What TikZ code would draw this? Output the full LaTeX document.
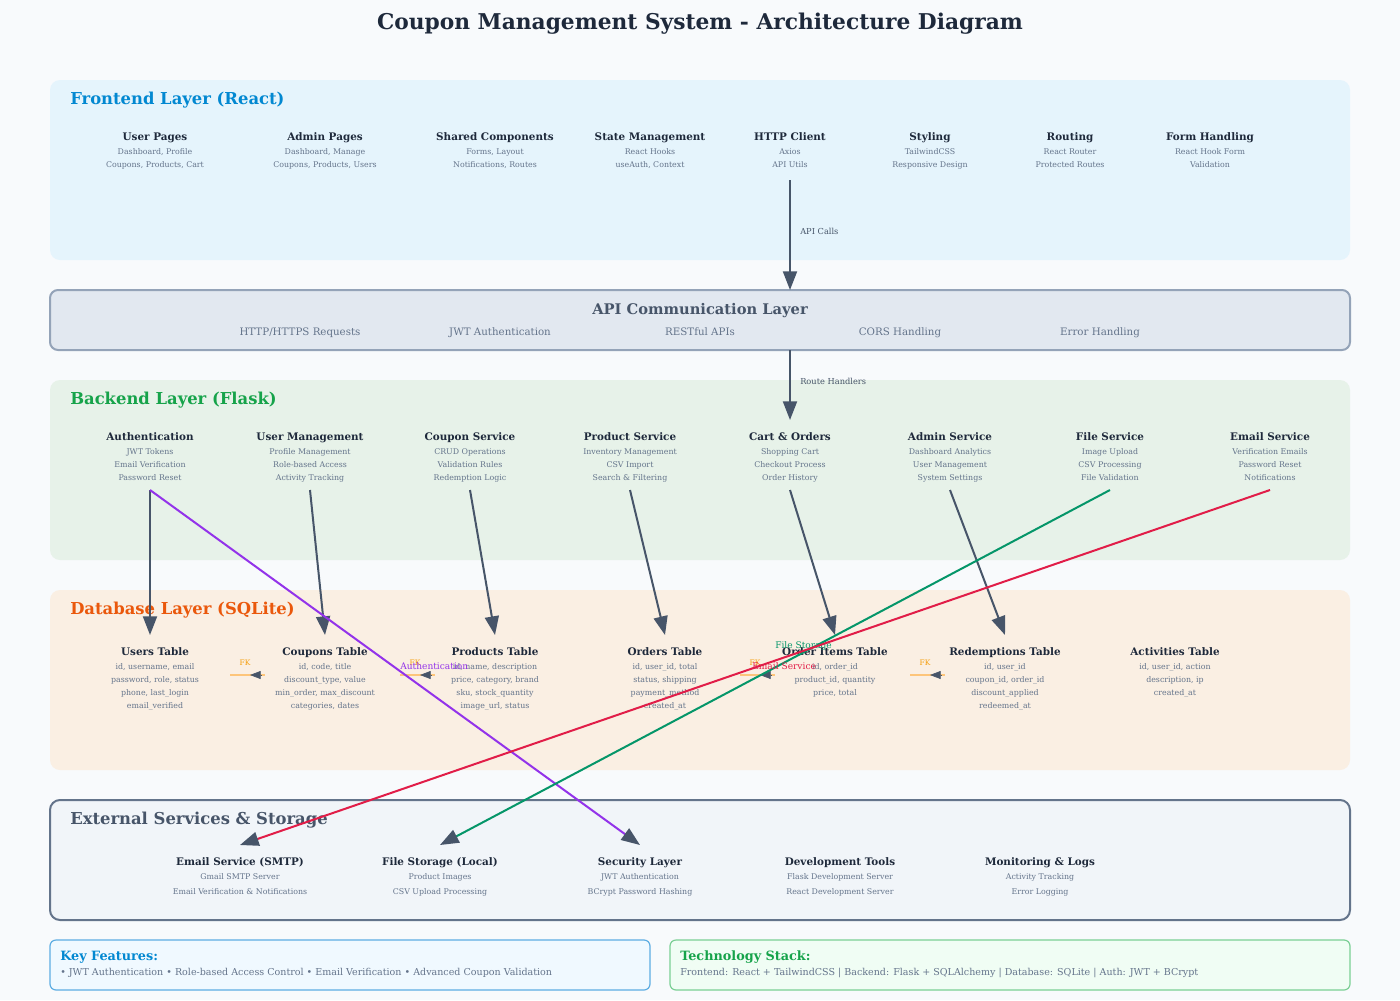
\documentclass[tikz,border=0pt]{standalone}
\usepackage{fontspec}
\setmainfont{DejaVu Serif}
\usetikzlibrary{arrows.meta}

\definecolor{bgc}{HTML}{F8FAFC}
\definecolor{ink}{HTML}{1E293B}
\definecolor{muted}{HTML}{64748B}
\definecolor{slate}{HTML}{475569}
\definecolor{feFill}{HTML}{E5F4FC}
\definecolor{feTitle}{HTML}{0288D1}
\definecolor{beFill}{HTML}{E7F2E9}
\definecolor{beTitle}{HTML}{16A34A}
\definecolor{dbFill}{HTML}{FAEFE3}
\definecolor{dbTitle}{HTML}{EA580C}
\definecolor{apiFill}{HTML}{E2E8F0}
\definecolor{apiLine}{HTML}{94A3B8}
\definecolor{exFill}{HTML}{F1F5F9}
\definecolor{exLine}{HTML}{64748B}
\definecolor{kfFill}{HTML}{F0F9FF}
\definecolor{kfLine}{HTML}{5DADE2}
\definecolor{tsFill}{HTML}{F0FDF4}
\definecolor{tsLine}{HTML}{7BCF94}
\definecolor{authC}{HTML}{9333EA}
\definecolor{fileC}{HTML}{059669}
\definecolor{mailC}{HTML}{E11D48}
\definecolor{fkLine}{HTML}{FDC57A}
\definecolor{fkText}{HTML}{F59E0B}

% one component: name, x, title baseline, line step, title, detail lines
\newcommand\archcomp[6]{%
  \node[ctitle] (#1) at (#2,#3) {#5};
  \foreach \ln [count=\k] in {#6}
    \node[csub] (#1-\k) at (#2,{#3+14+(\k-1)*#4}) {\ln};
}

\begin{document}
\begin{tikzpicture}[x=0.75pt,y=-0.75pt,
  ctitle/.style={anchor=base, inner sep=0pt, text=ink, font=\fontsize{7.8}{10}\selectfont\bfseries},
  csub/.style={anchor=base, inner sep=0pt, text=muted, font=\fontsize{5.9}{7}\selectfont},
  layertitle/.style={anchor=base west, inner sep=0pt, font=\fontsize{12.3}{14}\selectfont\bfseries},
  apiitem/.style={anchor=base, inner sep=0pt, text=muted, font=\fontsize{7.7}{9}\selectfont},
  lbl/.style={anchor=west, inner sep=0pt, text=slate, font=\fontsize{6.2}{8}\selectfont},
  conn/.style={draw=slate, line width=1.5pt, -{Triangle[length=14pt,width=10.5pt]}},
  cross/.style={line width=1.5pt, -{Triangle[length=14pt,width=10.5pt,color=slate,fill=slate]}},
  crosslbl/.style={anchor=west, inner sep=0pt, font=\fontsize{6.8}{8}\selectfont},
  fkline/.style={draw=fkLine, line width=2pt},
  fktip/.style={draw=slate, line width=0.4pt, -{Triangle[length=8pt,width=6pt]}},
  fklbl/.style={anchor=base, inner sep=0pt, text=fkText, font=\fontsize{5.6}{7}\selectfont},
]
\fill[bgc] (0,0) rectangle (1400,1000);
\useasboundingbox (0,0) rectangle (1400,1000);

\node[anchor=base, inner sep=0pt, text=ink, font=\fontsize{16.3}{19}\selectfont\bfseries] (title) at (700,29)
  {Coupon Management System - Architecture Diagram};

% ---------------- Frontend layer
\fill[feFill, rounded corners=7.5pt] (50,80) rectangle (1350,260);
\node[layertitle, text=feTitle] (fe) at (70,104) {Frontend Layer (React)};
\archcomp{userpages}{155}{140}{13}{User Pages}{{Dashboard, Profile},{Coupons, Products, Cart}}
\archcomp{adminpages}{325}{140}{13}{Admin Pages}{{Dashboard, Manage},{Coupons, Products, Users}}
\archcomp{shared}{495}{140}{13}{Shared Components}{{Forms, Layout},{Notifications, Routes}}
\archcomp{state}{650}{140}{13}{State Management}{{React Hooks},{useAuth, Context}}
\archcomp{http}{790}{140}{13}{HTTP Client}{{Axios},{API Utils}}
\archcomp{styling}{930}{140}{13}{Styling}{{TailwindCSS},{Responsive Design}}
\archcomp{routing}{1070}{140}{13}{Routing}{{React Router},{Protected Routes}}
\archcomp{forms}{1210}{140}{13}{Form Handling}{{React Hook Form},{Validation}}

% ---------------- API layer
\draw[apiLine, fill=apiFill, line width=1.5pt, rounded corners=6pt] (50,290) rectangle (1350,350);
\node[anchor=base, inner sep=0pt, text=slate, font=\fontsize{11}{13}\selectfont\bfseries] (api) at (700,314) {API Communication Layer};
\node[apiitem] (api1) at (300,335) {HTTP/HTTPS Requests};
\node[apiitem] (api2) at (500,335) {JWT Authentication};
\node[apiitem] (api3) at (700,335) {RESTful APIs};
\node[apiitem] (api4) at (900,335) {CORS Handling};
\node[apiitem] (api5) at (1100,335) {Error Handling};

% ---------------- Backend layer
\fill[beFill, rounded corners=7.5pt] (50,380) rectangle (1350,560);
\node[layertitle, text=beTitle] (be) at (70,404) {Backend Layer (Flask)};
\archcomp{auth}{150}{440}{13}{Authentication}{{JWT Tokens},{Email Verification},{Password Reset}}
\archcomp{usermgmt}{310}{440}{13}{User Management}{{Profile Management},{Role-based Access},{Activity Tracking}}
\archcomp{couponsvc}{470}{440}{13}{Coupon Service}{{CRUD Operations},{Validation Rules},{Redemption Logic}}
\archcomp{productsvc}{630}{440}{13}{Product Service}{{Inventory Management},{CSV Import},{Search \& Filtering}}
\archcomp{cart}{790}{440}{13}{Cart \& Orders}{{Shopping Cart},{Checkout Process},{Order History}}
\archcomp{adminsvc}{950}{440}{13}{Admin Service}{{Dashboard Analytics},{User Management},{System Settings}}
\archcomp{filesvc}{1110}{440}{13}{File Service}{{Image Upload},{CSV Processing},{File Validation}}
\archcomp{emailsvc}{1270}{440}{13}{Email Service}{{Verification Emails},{Password Reset},{Notifications}}

% ---------------- Database layer
\fill[dbFill, rounded corners=7.5pt] (50,590) rectangle (1350,770);
\node[layertitle, text=dbTitle] (db) at (70,614) {Database Layer (SQLite)};
\archcomp{users}{155}{655}{13}{Users Table}{{id, username, email},{password, role, status},{phone, last\_login},{email\_verified}}
\archcomp{coupons}{325}{655}{13}{Coupons Table}{{id, code, title},{discount\_type, value},{min\_order, max\_discount},{categories, dates}}
\archcomp{products}{495}{655}{13}{Products Table}{{id, name, description},{price, category, brand},{sku, stock\_quantity},{image\_url, status}}
\archcomp{orders}{665}{655}{13}{Orders Table}{{id, user\_id, total},{status, shipping},{payment\_method},{created\_at}}
\archcomp{orderitems}{835}{655}{13}{Order Items Table}{{id, order\_id},{product\_id, quantity},{price, total}}
\archcomp{redemptions}{1005}{655}{13}{Redemptions Table}{{id, user\_id},{coupon\_id, order\_id},{discount\_applied},{redeemed\_at}}
\archcomp{activities}{1175}{655}{13}{Activities Table}{{id, user\_id, action},{description, ip},{created\_at}}

% foreign key markers between tables
\foreach \n/\x in {1/230,2/400,3/740,4/910}{
  \coordinate (fk\n a) at (\x,675);
  \coordinate (fk\n b) at (\x+35,675);
  \coordinate (fk\n s) at (\x+31,675);
  \coordinate (fk\n t) at (\x+20,675);
  \draw[fkline] (fk\n a) -- (fk\n b);
  \draw[fktip] (fk\n s) -- (fk\n t);
  \node[fklbl] (fk\n) at (\x+15,665) {FK};
}

% ---------------- External services
\draw[exLine, fill=exFill, line width=1.5pt, rounded corners=7.5pt] (50,800) rectangle (1350,920);
\node[layertitle, text=slate] (ext) at (70,824) {External Services \& Storage};
\archcomp{smtp}{240}{865}{15}{Email Service (SMTP)}{{Gmail SMTP Server},{Email Verification \& Notifications}}
\archcomp{storage}{440}{865}{15}{File Storage (Local)}{{Product Images},{CSV Upload Processing}}
\archcomp{security}{640}{865}{15}{Security Layer}{{JWT Authentication},{BCrypt Password Hashing}}
\archcomp{devtools}{840}{865}{15}{Development Tools}{{Flask Development Server},{React Development Server}}
\archcomp{monitor}{1040}{865}{15}{Monitoring \& Logs}{{Activity Tracking},{Error Logging}}

% ---------------- Summary boxes
\draw[kfLine, fill=kfFill, line width=0.9pt, rounded corners=4.5pt] (50,940) rectangle (650,990);
\node[anchor=base west, inner sep=0pt, text=feTitle, font=\fontsize{9.6}{11}\selectfont\bfseries] (kf) at (60,960) {Key Features:};
\node[anchor=base west, inner sep=0pt, text=muted, font=\fontsize{7.15}{8}\selectfont] (kftext) at (60,975)
  {• JWT Authentication • Role-based Access Control • Email Verification • Advanced Coupon Validation};
\draw[tsLine, fill=tsFill, line width=0.9pt, rounded corners=4.5pt] (670,940) rectangle (1350,990);
\node[anchor=base west, inner sep=0pt, text=beTitle, font=\fontsize{9.6}{11}\selectfont\bfseries] (ts) at (680,960) {Technology Stack:};
\node[anchor=base west, inner sep=0pt, text=muted, font=\fontsize{7.15}{8}\selectfont] (tstext) at (680,975)
  {Frontend: React + TailwindCSS | Backend: Flask + SQLAlchemy | Database: SQLite | Auth: JWT + BCrypt};

% ---------------- Connectors
\coordinate (http-out) at (790,180);
\coordinate (api-in) at (790,290);
\coordinate (api-out) at (790,350);
\coordinate (cart-in) at (790,420);
\draw[conn] (http-out) -- (api-in);
\node[lbl] (apicalls) at (800,231) {API Calls};
\draw[conn] (api-out) -- (cart-in);
\node[lbl] (routeh) at (800,381) {Route Handlers};

\foreach \s/\sx/\t/\tx in {auth/150/users/150, usermgmt/310/coupons/325, couponsvc/470/products/495,
    productsvc/630/orders/665, cart/790/orderitems/835, adminsvc/950/redemptions/1005}{
  \coordinate (\s-out) at (\sx,490);
  \coordinate (\t-in) at (\tx,635);
  \draw[conn] (\s-out) -- (\t-in);
}

\coordinate (file-out) at (1110,490);
\coordinate (mail-out) at (1270,490);
\coordinate (smtp-in) at (240,845);
\coordinate (storage-in) at (440,845);
\coordinate (security-in) at (640,845);
\draw[cross, authC] (auth-out) -- (security-in);
\node[crosslbl, text=authC] (authlbl) at (400,666) {Authentication};
\draw[cross, fileC] (file-out) -- (storage-in);
\node[crosslbl, text=fileC] (filelbl) at (775,646) {File Storage};
\draw[cross, mailC] (mail-out) -- (smtp-in);
\node[crosslbl, text=mailC] (maillbl) at (752,666) {Email Service};
\end{tikzpicture}
\end{document}
